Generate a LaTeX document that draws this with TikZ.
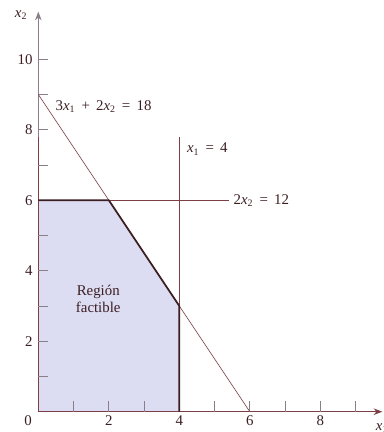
\documentclass[tikz,border=0pt]{standalone}
\usepackage{fontspec}
\setmainfont{Liberation Serif}
\usetikzlibrary{arrows.meta,positioning}
\definecolor{lpfill}{HTML}{DCDCF2}
\definecolor{lpink}{HTML}{3B1E22}
\definecolor{lpline}{HTML}{7B3F45}
\definecolor{lpaxis}{HTML}{8A7F88}
\newcommand{\xv}[1]{\textit{x}\textsubscript{#1}}
\newcommand{\opsp}[1]{\hspace{.42em}#1\hspace{.42em}}

\begin{document}
\begin{tikzpicture}[
  >=Stealth,
  axis/.style={lpaxis,line width=.9pt},
  constraint/.style={lpline,line width=.5pt},
  border/.style={lpink,line width=1.4pt},
  tick/.style={lpaxis,line width=.6pt},
  label/.style={font=\fontsize{12}{14}\selectfont,text=lpink,inner sep=1pt}
]
  \useasboundingbox (-1.087,-0.576) rectangle (9.78,11.68);
  \coordinate (o) at (0,0);
  \coordinate (a) at (0,6);
  \coordinate (b) at (2,6);
  \coordinate (c) at (4,3);
  \coordinate (d) at (4,0);

  % feasible region
  \fill[lpfill] (o) -- (a) -- (b) -- (c) -- (d) -- cycle;

  % axes and ticks
  \draw[axis,->] (o) -- (0,11.35) coordinate (ytop);
  \draw[axis,lpline,->] (o) -- (9.76,0) coordinate (xend);
  \draw[constraint] (o) -- (0,7.8);
  \foreach \k in {1,...,10}
    \draw[tick] (0,\k) -- ++(0.28,0);
  \foreach \k in {1,...,9}
    \draw[tick] (\k,0) -- ++(0,0.3);
  \foreach \k in {2,4,6,8,10}
    \node[label,anchor=east] (ylab\k) at (-0.12,\k) {\k};
  \foreach \k in {2,4,6,8}
    \node[label,anchor=north] (xlab\k) at (\k,-0.08) {\k};
  \node[label,anchor=north] (zero) at (-0.29,-0.08) {0};
  \node[label] (x2name) at (-0.49,11.25) {\xv{2}};
  \node[label,anchor=west,inner sep=0pt] (x1name) at (9.57,-0.47) {\xv{1}};

  % constraint lines
  \coordinate (p9) at (0,9);
  \coordinate (p6) at (6,0);
  \draw[constraint] (p9) -- (p6);
  \draw[constraint] (d) -- (4,7.8) coordinate (vtop);
  \draw[constraint] (a) -- (5.4,6) coordinate (hend);

  % boundary of the region
  \draw[border,line join=round] (a) -- (b) -- (c) -- (d);

  % labels
  \node[label,anchor=west] (eq1) at (0.45,8.65) {3\xv{1}\opsp{+}2\xv{2}\opsp{=}18};
  \node[label,anchor=west] (eq2) at (4.18,7.45) {\xv{1}\opsp{=}4};
  \node[label,anchor=west] (eq3) at (5.5,6) {2\xv{2}\opsp{=}12};
  \node[label,align=center] (region) at (1.7,3.2) {Región\\factible};
\end{tikzpicture}
\end{document}
